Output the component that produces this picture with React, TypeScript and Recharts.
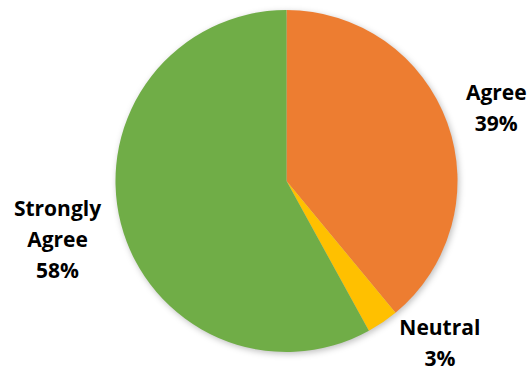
import React from 'react';
import { PieChart, Pie, Cell } from 'recharts';

const categories = ['Agree', 'Neutral', 'Strongly Agree'];
const values = [39, 3, 58];
const colors = ['#ED7D31', '#FFC000', '#70AD47'];

// nudges from the default outside-label spot, per category
const labelNudge: Record<string, [number, number]> = {
    Agree: [0, 2],
    Neutral: [28, -23],
    'Strongly Agree': [-13, 3],
};

const data = categories.map((name, i) => ({ name, value: values[i] }));
const total = values.reduce((a, b) => a + b, 0);

const RAD = Math.PI / 180;
const LINE = 31;

function renderLabel(props: any) {
    const { cx, cy, midAngle, outerRadius, name, value } = props;
    const r = outerRadius + 52;
    const [nx, ny] = labelNudge[name] || [0, 0];
    const x = cx + r * Math.cos(-midAngle * RAD) + nx;
    const y = cy + r * Math.sin(-midAngle * RAD) + ny;
    const lines = [...name.split(' '), `${Math.round((value / total) * 100)}%`];
    const first = y - ((lines.length - 1) * LINE) / 2 + 8;
    return (
        <text
            x={x}
            y={first}
            textAnchor="middle"
            fill="#000"
            style={{ fontFamily: '"Open Sans", sans-serif', fontWeight: 700, fontSize: 21 }}
        >
            {lines.map((ln, i) => (
                <tspan key={i} x={x} y={first + i * LINE}>
                    {ln}
                </tspan>
            ))}
        </text>
    );
}

export default function App() {
    return (
        <div style={{ width: 530, height: 371, background: '#fff' }}>
            <style>{`body{margin:0} .shadow-pie path{filter:blur(3px);}`}</style>
            <PieChart width={530} height={371} margin={{ top: 0, right: 0, bottom: 0, left: 0 }}>
                <Pie
                    data={data}
                    dataKey="value"
                    cx={288}
                    cy={183}
                    outerRadius={171}
                    startAngle={90}
                    endAngle={-270}
                    stroke="none"
                    fill="rgba(0,0,0,0.25)"
                    className="shadow-pie"
                    isAnimationActive={false}
                    label={false}
                />
                <Pie
                    data={data}
                    dataKey="value"
                    cx={286.5}
                    cy={181}
                    outerRadius={171}
                    startAngle={90}
                    endAngle={-270}
                    stroke="none"
                    isAnimationActive={false}
                    labelLine={false}
                    label={renderLabel}
                >
                    {data.map((d, i) => (
                        <Cell key={d.name} fill={colors[i]} />
                    ))}
                </Pie>
            </PieChart>
        </div>
    );
}
